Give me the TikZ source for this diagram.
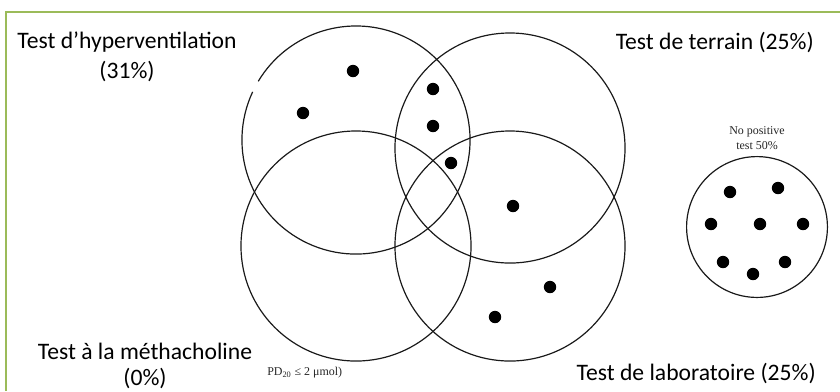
\documentclass[tikz,border=0pt]{standalone}
\usepackage{fontspec}
\setmainfont{Carlito}
\newfontfamily\notefont{Liberation Serif}
\usepackage{xcolor}
\usetikzlibrary{positioning}
\definecolor{framegreen}{RGB}{155,187,89}

\begin{document}
\begin{tikzpicture}[
  x=0.025cm, y=-0.025cm,
  venn/.style={circle, draw=black!90, line width=0.85pt, minimum size=5.75cm, inner sep=0pt, outer sep=0pt},
  ring/.style={draw=black!90, line width=0.85pt},
  dot/.style={circle, fill=black, inner sep=0pt, minimum size=0.31cm},
  lbl/.style={font=\fontsize{16.8}{21}\selectfont, align=center, inner sep=0pt},
  note/.style={font=\notefont\fontsize{8.5}{10.5}\selectfont, text=black!85, align=center, inner sep=0pt},
]
\useasboundingbox (0,0) rectangle (840,391);
\draw[framegreen, line width=1pt] (6,391) -- (6,12) -- (840,12);

% the four tests
\node[venn, draw=none, minimum size=5.7cm] (hyp) at (356,140) {};
\draw[ring] (hyp.155) arc[start angle=155, delta angle=354, radius=2.85cm];
\node[venn] (ter) at (510,148) {};
\node[venn] (met) at (356,246) {};
\node[venn] (lab) at (510,246) {};
\node[venn, minimum size=3.52cm] (nopos) at (757,227) {};

\node[lbl] (hyptxt) at (127,57) {Test d'hyperventilation\\(31\%)};
\node[lbl, anchor=base east] (tertxt) at (814,49) {Test de terrain (25\%)};
\node[lbl] (mettxt) at (145,366) {Test à la méthacholine\\[-3pt](0\%)};
\node[lbl, anchor=base east] (labtxt) at (816,380) {Test de laboratoire (25\%)};
\node[note, above=5pt of nopos] (nopostxt) {No positive\\test 50\%};
\node[note, anchor=west] (pd) at (267,373) {PD\textsubscript{20} ≤ 2 μmol)};

% patients
\foreach \p [count=\i] in {(353,71),(303,113),(433,89),(433,126),(451,163),
  (513,206),(550,287),(495,317)}
  \node[dot] (p\i) at \p {};
\foreach \p [count=\i] in {(730,192),(778,188),(711,224),(760,224),(803,224),
  (723,262),(753,274),(785,262)}
  \node[dot] (n\i) at \p {};
\end{tikzpicture}
\end{document}
